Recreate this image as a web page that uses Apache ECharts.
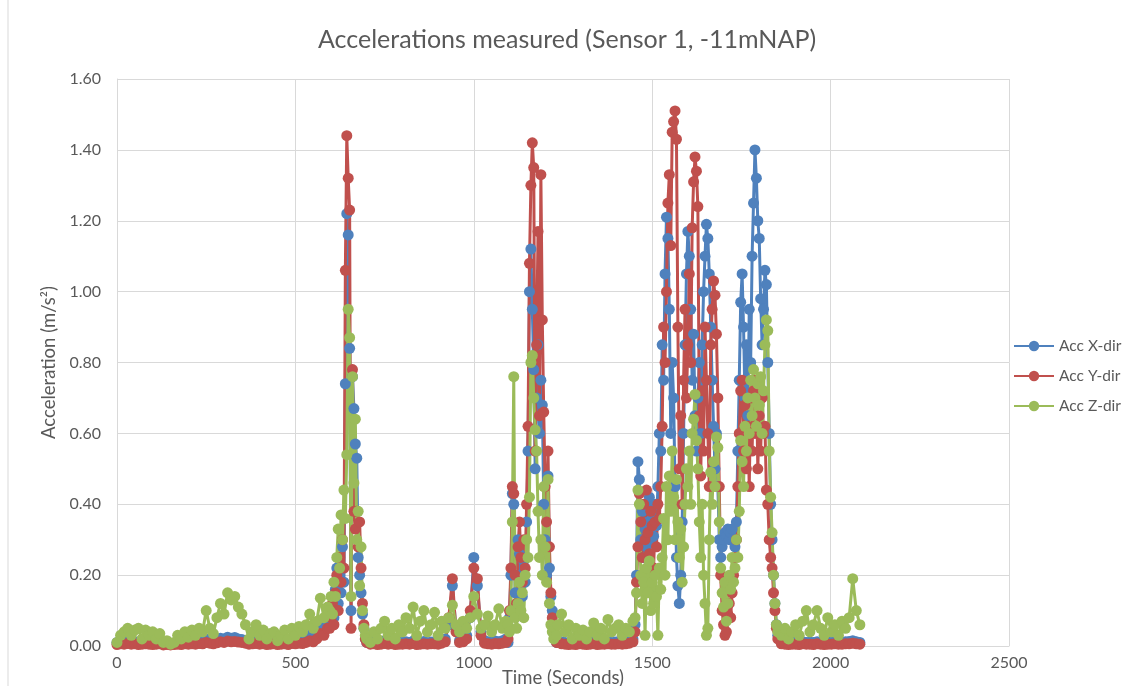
<!DOCTYPE html>
<html>
<head>
<meta charset="utf-8">
<title>Accelerations measured</title>
<script src="https://cdn.jsdelivr.net/npm/echarts@6/dist/echarts.min.js"></script>
<style>
    html, body { margin: 0; padding: 0; background: #fff; }
    #main { width: 1136px; height: 686px; }
</style>
</head>
<body>
<div id="main"></div>
<script>
    // time stamps (s) - coarse in the quiet parts, finer in the three events
    var times = [
        0,10,20,30,40,50,60,70,80,90,
        100,110,120,130,140,150,160,170,180,190,
        200,210,220,230,240,250,260,270,280,290,
        300,310,320,330,340,350,360,370,380,390,
        400,410,420,430,440,450,460,470,480,490,
        500,510,520,530,540,550,560,570,580,590,
        596,600,604,608,612,616,620,624,628,632,636,640,644,648,652,656,660,664,668,672,676,680,684,688,692,696,700,
        710,720,730,740,750,760,770,780,790,800,
        810,820,830,840,850,860,870,880,890,900,
        910,920,930,940,950,960,970,980,990,1000,
        1010,1020,1030,1040,1050,1060,1070,1080,1090,
        1096,1100,1104,1108,1112,1116,1120,1124,1128,
        1132,1136,1140,1144,1148,1152,1156,1160,1164,
        1168,1172,1176,1180,1184,1188,1192,1196,1200,
        1204,1208,1212,1216,1220,1224,1228,1232,1236,
        1246,1256,1266,1276,1286,1296,1306,1316,1326,1336,
        1346,1356,1366,1376,1386,1396,1406,1416,1426,1436,1446,
        1452,1456,1460,1464,1468,1472,1476,1480,1484,1488,
        1492,1496,1500,1504,1508,1512,1516,1520,1524,1528,
        1532,1536,1540,1544,1548,1552,1556,1560,1564,1568,
        1572,1576,1580,1584,1588,1592,1596,1600,1604,1608,
        1612,1616,1620,1624,1628,1632,1636,1640,1644,1648,
        1652,1656,1660,1664,1668,1672,1676,1680,1684,1688,
        1692,1696,1700,1704,1708,1712,1716,1720,1724,1728,
        1732,1736,1740,1744,1748,1752,1756,1760,1764,1768,
        1772,1776,1780,1784,1788,1792,1796,1800,1804,1808,
        1812,1816,1820,1824,1828,1832,1836,1840,1844,1848,
        1852,
        1862,1872,1882,1892,1902,1912,1922,1932,1942,1952,
        1962,1972,1982,1992,2002,2012,2022,2032,2042,2052,
        2062,2072,2082
    ];

    var accX = [
        0.01,0.012,0.008,0.015,0.01,0.012,0.009,0.011,0.013,0.01,
        0.008,0.01,0.012,0.006,0.008,0.005,0.007,0.01,0.009,0.012,
        0.01,0.013,0.011,0.014,0.012,0.02,0.015,0.012,0.018,0.022,
        0.02,0.025,0.022,0.024,0.02,0.018,0.015,0.01,0.012,0.014,
        0.01,0.012,0.009,0.011,0.012,0.008,0.01,0.013,0.009,0.014,
        0.012,0.016,0.014,0.02,0.03,0.025,0.04,0.06,0.05,0.08,
        0.06,0.10,0.14,0.08,0.16,0.22,0.12,0.20,0.15,0.28,0.18,0.74,1.22,1.16,0.84,0.10,0.76,0.67,0.57,0.53,0.25,0.20,0.15,0.09,0.05,0.02,0.01,
        0.01,0.012,0.008,0.01,0.015,0.01,0.012,0.009,0.011,0.01,
        0.012,0.01,0.014,0.008,0.01,0.013,0.009,0.011,0.012,0.01,
        0.015,0.02,0.06,0.17,0.05,0.015,0.02,0.03,0.08,0.25,
        0.17,0.04,0.015,0.012,0.01,0.014,0.012,0.015,0.02,
        0.01,0.08,0.20,0.43,0.40,0.15,0.10,0.30,0.26,
        0.20,0.14,0.24,0.18,0.35,0.55,1.00,1.12,0.95,
        0.78,0.50,0.70,0.85,0.60,0.75,0.68,0.40,0.30,
        0.20,0.48,0.22,0.14,0.10,0.05,0.02,0.01,0.01,
        0.012,0.01,0.008,0.01,0.009,0.011,0.01,0.008,0.01,0.012,
        0.009,0.011,0.01,0.012,0.01,0.011,0.013,0.01,0.012,0.015,0.02,
        0.06,0.20,0.52,0.47,0.30,0.38,0.25,0.33,0.28,0.35,
        0.42,0.30,0.36,0.31,0.40,0.34,0.45,0.60,0.55,0.85,
        0.75,1.05,1.21,1.15,0.95,0.60,0.80,0.70,0.45,0.25,
        0.17,0.12,0.20,0.35,0.60,0.85,1.05,1.17,1.10,0.95,
        0.75,0.88,0.65,0.55,0.70,0.80,0.60,0.85,1.00,1.10,
        1.19,1.15,1.05,0.90,0.75,0.62,0.50,0.60,0.45,0.30,
        0.25,0.28,0.30,0.32,0.31,0.33,0.30,0.32,0.33,0.30,
        0.28,0.35,0.55,0.75,0.97,1.05,0.90,0.70,0.85,0.65,
        0.95,0.80,1.10,1.25,1.40,1.32,1.20,1.15,0.98,0.85,
        0.95,1.06,1.02,0.80,0.60,0.40,0.30,0.20,0.12,0.06,
        0.03,
        0.012,0.01,0.008,0.011,0.01,0.009,0.012,0.01,0.011,0.01,
        0.012,0.01,0.009,0.011,0.01,0.012,0.01,0.011,0.012,0.013,
        0.015,0.012,0.01
    ];

    var accY = [
        0.004,0.006,0.005,0.007,0.005,0.006,0.004,0.005,0.006,0.005,
        0.004,0.005,0.006,0.003,0.004,0.003,0.004,0.005,0.004,0.006,
        0.005,0.006,0.005,0.007,0.006,0.01,0.008,0.006,0.009,0.012,
        0.01,0.014,0.012,0.013,0.011,0.01,0.008,0.005,0.006,0.007,
        0.005,0.006,0.004,0.005,0.006,0.004,0.005,0.006,0.004,0.007,
        0.006,0.008,0.007,0.01,0.015,0.012,0.02,0.035,0.03,0.05,
        0.05,0.08,0.12,0.06,0.15,0.20,0.10,0.25,0.18,0.30,0.22,1.06,1.44,1.32,1.23,0.05,0.78,0.38,0.33,0.38,0.28,0.35,0.22,0.12,0.06,0.02,0.01,
        0.005,0.006,0.004,0.005,0.007,0.005,0.006,0.004,0.005,0.005,
        0.006,0.005,0.007,0.004,0.005,0.006,0.005,0.006,0.006,0.005,
        0.008,0.012,0.08,0.19,0.04,0.01,0.012,0.02,0.10,0.22,
        0.19,0.03,0.008,0.006,0.005,0.007,0.006,0.008,0.01,
        0.02,0.10,0.22,0.45,0.43,0.20,0.12,0.28,0.35,
        0.25,0.18,0.30,0.22,0.40,0.62,1.08,1.30,1.42,
        1.35,0.55,0.85,1.17,0.65,1.33,0.92,0.66,0.45,
        0.35,0.55,0.28,0.15,0.08,0.04,0.02,0.01,0.01,
        0.006,0.005,0.004,0.005,0.004,0.006,0.005,0.004,0.005,0.006,
        0.004,0.005,0.005,0.006,0.005,0.005,0.006,0.005,0.006,0.008,0.012,
        0.04,0.18,0.28,0.43,0.35,0.25,0.40,0.30,0.44,0.32,
        0.26,0.38,0.34,0.22,0.35,0.28,0.40,0.36,0.45,0.62,
        0.90,0.80,1.00,1.25,1.33,1.13,1.45,1.48,1.51,1.43,
        0.90,0.50,0.65,0.40,0.75,0.95,0.70,0.85,1.05,0.80,
        1.18,1.31,1.38,1.34,1.24,0.65,0.48,0.72,0.55,0.90,
        0.75,0.60,0.45,0.85,0.95,1.03,0.99,0.88,0.70,0.45,
        0.20,0.10,0.06,0.03,0.04,0.09,0.12,0.08,0.15,0.20,
        0.25,0.30,0.45,0.60,0.72,0.75,0.55,0.68,0.50,0.62,
        0.45,0.70,0.55,0.72,0.60,0.75,0.50,0.65,0.55,0.70,
        0.60,0.62,0.44,0.40,0.30,0.25,0.22,0.15,0.10,0.05,
        0.02,
        0.006,0.005,0.004,0.005,0.005,0.004,0.006,0.005,0.005,0.004,
        0.006,0.005,0.004,0.005,0.005,0.006,0.005,0.005,0.006,0.006,
        0.008,0.006,0.005
    ];

    var accZ = [
        0.01,0.03,0.04,0.05,0.03,0.045,0.05,0.02,0.045,0.03,
        0.04,0.02,0.035,0.01,0.015,0.005,0.01,0.03,0.02,0.04,
        0.025,0.045,0.03,0.05,0.04,0.10,0.05,0.035,0.08,0.12,
        0.09,0.15,0.13,0.14,0.11,0.09,0.06,0.02,0.04,0.06,
        0.03,0.045,0.02,0.035,0.04,0.015,0.03,0.045,0.02,0.05,
        0.03,0.055,0.04,0.06,0.09,0.05,0.07,0.135,0.08,0.11,
        0.10,0.14,0.09,0.18,0.14,0.25,0.33,0.22,0.37,0.30,0.44,0.36,0.54,0.95,0.87,0.14,0.76,0.46,0.64,0.30,0.38,0.17,0.28,0.10,0.05,0.03,0.02,
        0.01,0.04,0.02,0.05,0.07,0.03,0.05,0.02,0.06,0.04,
        0.08,0.05,0.11,0.03,0.07,0.10,0.04,0.06,0.095,0.03,
        0.07,0.05,0.08,0.115,0.06,0.04,0.07,0.05,0.08,0.14,
        0.09,0.05,0.06,0.085,0.04,0.06,0.105,0.05,0.07,
        0.06,0.04,0.10,0.35,0.76,0.08,0.05,0.12,0.18,
        0.10,0.15,0.08,0.20,0.30,0.25,0.42,0.80,0.82,
        0.70,0.61,0.55,0.38,0.25,0.30,0.20,0.45,0.28,
        0.18,0.47,0.12,0.06,0.04,0.02,0.05,0.03,0.06,
        0.09,0.04,0.06,0.02,0.05,0.03,0.045,0.02,0.04,0.065,
        0.03,0.05,0.02,0.075,0.04,0.05,0.06,0.03,0.05,0.04,0.07,
        0.08,0.15,0.44,0.40,0.20,0.12,0.18,0.03,0.22,0.15,
        0.24,0.10,0.18,0.12,0.20,0.14,0.03,0.22,0.16,0.25,
        0.36,0.20,0.45,0.30,0.48,0.38,0.55,0.42,0.30,0.47,
        0.35,0.25,0.33,0.18,0.28,0.40,0.50,0.45,0.55,0.40,
        0.60,0.64,0.71,0.58,0.50,0.35,0.25,0.40,0.20,0.12,
        0.03,0.05,0.30,0.49,0.40,0.52,0.45,0.59,0.56,0.35,
        0.22,0.15,0.11,0.18,0.07,0.12,0.20,0.16,0.25,0.18,
        0.22,0.30,0.25,0.38,0.58,0.52,0.45,0.62,0.55,0.70,
        0.60,0.75,0.65,0.78,0.70,0.62,0.74,0.68,0.76,0.60,
        0.72,0.85,0.92,0.89,0.55,0.42,0.32,0.20,0.12,0.06,
        0.04,
        0.03,0.05,0.02,0.04,0.06,0.03,0.07,0.10,0.04,0.06,
        0.10,0.05,0.03,0.08,0.04,0.06,0.03,0.07,0.05,0.08,
        0.19,0.10,0.06
    ];

    var seriesNames = ['Acc X-dir', 'Acc Y-dir', 'Acc Z-dir'];
    var seriesColors = ['#4f81bd', '#c0504d', '#9bbb59'];

    function pairs(vals) {
        var out = [];
        for (var i = 0; i < times.length; i++) {
            out.push([times[i], vals[i]]);
        }
        return out;
    }

    function makeSeries(idx, vals) {
        return {
            name: seriesNames[idx],
            type: 'line',
            data: pairs(vals),
            symbol: 'circle',
            symbolSize: 11,
            showAllSymbol: true,
            color: seriesColors[idx],
            lineStyle: { width: 3, color: seriesColors[idx] },
            itemStyle: { color: seriesColors[idx] },
            emphasis: { disabled: true }
        };
    }

    var textColor = '#595959';
    var font = 'Lato, "Open Sans", sans-serif';

    var myChart = echarts.init(document.getElementById('main'));

    var option = {
        animation: false,
        backgroundColor: '#ffffff',
        textStyle: { fontFamily: font },
        title: {
            text: 'Accelerations measured (Sensor 1, -11mNAP)',
            left: 318,
            top: 27,
            padding: 0,
            textStyle: { fontSize: 25, fontWeight: 'normal', color: textColor, fontFamily: font }
        },
        legend: {
            orient: 'vertical',
            left: 1013,
            top: 338,
            padding: 0,
            itemWidth: 40,
            itemHeight: 13,
            itemGap: 14,
            textStyle: { fontSize: 15.5, color: textColor, fontFamily: font },
            data: seriesNames
        },
        grid: { left: 117, right: 127, top: 79, bottom: 40, outerBoundsMode: 'none' },
        xAxis: {
            type: 'value',
            min: 0,
            max: 2500,
            interval: 500,
            name: 'Time (Seconds)',
            nameLocation: 'middle',
            nameGap: 23,
            nameMoveOverlap: false,
            nameTextStyle: { fontSize: 18.5, color: textColor, fontFamily: font },
            axisLine: { show: true, lineStyle: { color: '#d9d9d9' } },
            axisTick: { show: false },
            axisLabel: {
                fontSize: 16, color: textColor, margin: 9,
                formatter: function (v) { return String(v); }
            },
            splitLine: { show: true, lineStyle: { color: '#d9d9d9', width: 1 } }
        },
        yAxis: {
            type: 'value',
            min: 0,
            max: 1.6,
            interval: 0.2,
            name: 'Acceleration (m/s²)',
            nameLocation: 'middle',
            nameGap: 56,
            nameTextStyle: { fontSize: 18.5, color: textColor, fontFamily: font },
            axisLine: { show: true, lineStyle: { color: '#d9d9d9' } },
            axisTick: { show: false },
            axisLabel: {
                fontSize: 16, color: textColor, margin: 16,
                formatter: function (v) { return v.toFixed(2); }
            },
            splitLine: { show: true, lineStyle: { color: '#d9d9d9', width: 1 } }
        },
        graphic: [{
            type: 'line',
            shape: { x1: 8, y1: 0, x2: 8, y2: 686 },
            style: { stroke: '#d9d9d9', lineWidth: 1 }
        }],
        series: [
            makeSeries(0, accX),
            makeSeries(1, accY),
            makeSeries(2, accZ)
        ]
    };

    myChart.setOption(option);
</script>
</body>
</html>
